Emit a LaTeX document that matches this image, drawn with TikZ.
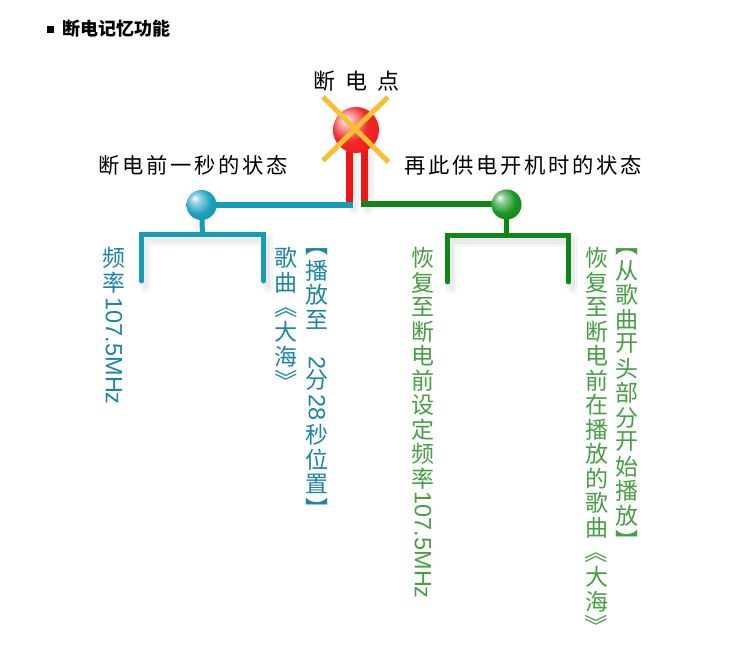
\documentclass[tikz,border=0pt]{standalone}
\usepackage{graphicx}
\usepackage{fontspec}
\setmainfont{Noto Sans CJK SC}
\newfontfamily\latinfam{Liberation Sans}
\usetikzlibrary{calc}
\definecolor{bline}{RGB}{22,155,185}
\definecolor{btext}{RGB}{28,132,165}
\definecolor{gline}{RGB}{14,135,22}
\definecolor{gtext}{RGB}{72,158,68}
\definecolor{xyel}{RGB}{246,192,48}
\definecolor{rbar}{RGB}{236,24,24}
\definecolor{ballred}{RGB}{240,22,22}
\definecolor{ballblue}{RGB}{30,160,192}
\definecolor{ballgreen}{RGB}{24,150,32}
\pgfdeclareradialshading{redball}{\pgfpoint{-12bp}{12bp}}{color(0bp)=(white); color(7bp)=(ballred!35!white); color(20bp)=(ballred!92!white); color(40bp)=(ballred); color(50bp)=(ballred!80!black)}
\pgfdeclareradialshading{blueball}{\pgfpoint{-12bp}{12bp}}{color(0bp)=(white); color(7bp)=(ballblue!45!white); color(22bp)=(ballblue); color(40bp)=(ballblue!85!black); color(50bp)=(ballblue!70!black)}
\pgfdeclareradialshading{greenball}{\pgfpoint{-12bp}{12bp}}{color(0bp)=(white); color(7bp)=(ballgreen!45!white); color(22bp)=(ballgreen); color(40bp)=(ballgreen!85!black); color(50bp)=(ballgreen!70!black)}
\newdimen\px \px=0.75pt
\newdimen\pitch \pitch=24.5\px
\newcommand\Vs[1]{\vbox to\pitch{\vss\hbox to 26\px{\hss#1\hss}\vss}}
\newcommand\Vk[1]{\kern#1\px}
\newcommand\Vl[1]{\hbox to 26\px{\hss\rotatebox{-90}{\latinfam\fontsize{17.6pt}{17.6pt}\selectfont #1}\hss}}
\newcommand\Vr[1]{\kern1\px\hbox to 26\px{\hss\rotatebox{-90}{#1}\hss}\kern1\px}
\newcommand\Vb[1]{\vbox to 13\px{\vss\hbox to 26\px{\hss#1\hss}\vss}}
\newcommand\colbox[1]{\vbox{\offinterlineskip\fontsize{17.25pt}{17.25pt}\selectfont #1}}
\ExplSyntaxOn
\NewDocumentCommand\vchars{m}{\tl_map_inline:nn{#1}{\Vs{##1}}}
\NewDocumentCommand\hchars{mm}{\tl_map_inline:nn{#2}{\hbox~to~#1{\hss##1\hss}}}
\ExplSyntaxOff
\begin{document}
\begin{tikzpicture}[x=0.75pt,y=-0.75pt,
  bl/.style={draw=bline, line width=4.5pt},
  bbr/.style={draw=bline, line width=3.75pt, line cap=round},
  gl/.style={draw=gline, line width=4.5pt},
  gbr/.style={draw=gline, line width=3.75pt, line cap=round},
  redbar/.style={draw=rbar, line width=5.25pt},
  xmark/.style={draw=xyel, line width=3.75pt},
  colb/.style={anchor=north, inner sep=0, text=btext},
  colg/.style={anchor=north, inner sep=0, text=gtext},
  head/.style={anchor=west, inner sep=0, font=\fontsize{16pt}{16pt}\selectfont},
  ball/.style={circle, inner sep=0, minimum size=22.5pt, shade}
]
\useasboundingbox (0,0) rectangle (750,648);
\fill[white] (0,0) rectangle (750,648);
\coordinate (rc) at (356,130);
\coordinate (bc) at (201.5,205);
\coordinate (gc) at (506.5,204.5);
\coordinate (bj) at (353,205);
\coordinate (gj) at (360.5,204.5);
\coordinate (bs) at (202.5,234.5);
\coordinate (gs) at (506.5,235.5);
% soft shadows
\begin{scope}[shift={(5,6)}]
  \shade[inner color=black!28, outer color=white] (rc) circle (27);
  \shade[inner color=black!22, outer color=white] (bc) circle (18);
  \shade[inner color=black!22, outer color=white] (gc) circle (18);
\end{scope}
\foreach \w/\c in {8.5pt/4, 3.5pt/8}{
\begin{scope}[shift={(4,6)}, shd/.style={draw=black!\c, line width=\w, line cap=round}]
  \draw[shd] (349.5,150) -- (349.5,203);
  \draw[shd] (364.5,150) -- (364.5,203);
  \draw[shd] (bc) -- (bs);
  \draw[shd] (gc) -- (gs);
  \draw[shd] (141.5,281) -- (141.5,234.5) -- (263.5,234.5) -- (263.5,281);
  \draw[shd] (447.5,282) -- (447.5,235.5) -- (568.5,235.5) -- (568.5,282);
\end{scope}}
% connectors
\draw[redbar] ($(rc)+(-6.5,0)$) -- (349.5,202);
\draw[redbar] ($(rc)+(8.5,0)$) -- (364.5,202);
\draw[bl] (bc) -- (bj);
\draw[gl] (gj) -- (gc);
\draw[bbr] (bc) -- (bs);
\draw[gbr] (gc) -- (gs);
\draw[bbr] (141.5,281) -- (141.5,234.5) -- (263.5,234.5) -- (263.5,281);
\draw[gbr] (447.5,282) -- (447.5,235.5) -- (568.5,235.5) -- (568.5,282);
% balls
\node[ball, shading=redball, minimum size=34.5pt] (rb) at (rc) {};
\node[ball, shading=blueball] (bb) at (bc) {};
\node[ball, shading=greenball] (gb) at (gc) {};
\draw[xmark] ($(rb)+(-33,-33)$) -- ($(rb)+(32.5,32)$);
\draw[xmark] ($(rb)+(32,-33)$) -- ($(rb)+(-33,30.5)$);
% title
\node[fill=black, inner sep=0, minimum size=5.25pt] (sq) at (50.5,29.5) {};
\node[anchor=west, inner sep=0, font=\bfseries\fontsize{13.5pt}{13.5pt}\selectfont] (title) at (62,28.5) {断电记忆功能};
\node[inner sep=0, font=\fontsize{16.5pt}{16.5pt}\selectfont] (dd) at (356.5,81) {\hchars{32.5\px}{断电点}};
\node[head] (hl) at (97,165) {\hchars{24\px}{断电前一秒的状态}};
\node[head] (hr) at (403,165) {\hchars{24\px}{再此供电开机时的状态}};
% columns
\node[colb] (b1) at (114,245.5) {\colbox{\vchars{频率}\Vk{3}\Vl{107.5MHz}}};
\node[colb] (b2) at (286,245.5) {\colbox{\vchars{歌曲}\Vr{《}\vchars{大海}\Vr{》}}};
\node[colb] (b3) at (317,245) {\colbox{\Vb{︻}\vchars{播放至}\Vk{24.5}\Vl{2}\Vk{-2}\Vs{分}\Vk{2.75}\Vl{28}\Vk{1.75}\vchars{秒位置}\Vk{5.5}\Vb{︼}}};
\node[colg] (g1) at (423,245.5) {\colbox{\vchars{恢复至断电前设定频率}\Vk{1}\Vl{107.5MHz}}};
\node[colg] (g2) at (596.5,245.5) {\colbox{\vchars{恢复至断电前在播放的歌曲}\Vr{《}\vchars{大海}\Vr{》}}};
\node[colg] (g3) at (627,245) {\colbox{\Vb{︻}\vchars{从歌曲开头部分开始播放}\Vk{5.5}\Vb{︼}}};
\end{tikzpicture}
\end{document}
